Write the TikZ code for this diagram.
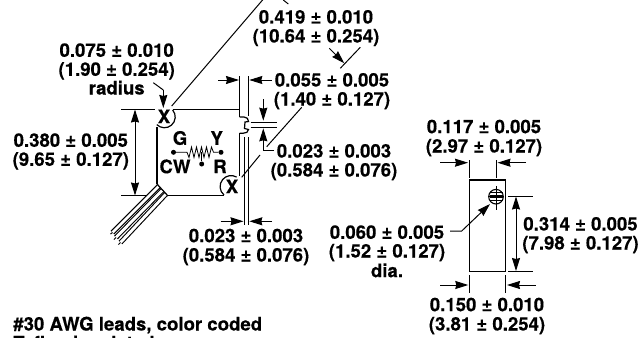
\documentclass[tikz,border=0pt]{standalone}
\usepackage{fontspec}
\setmainfont[BoldFeatures={FakeBold=0.35}]{TeX Gyre Heros}
\usetikzlibrary{arrows.meta}
\tikzset{
  lbl/.style={inner sep=0pt,outer sep=0pt,anchor=base,font=\fontsize{18.6}{19}\selectfont\bfseries},
  lbll/.style={lbl,anchor=base west},
  ln/.style={line width=1.2pt,black},
  thin ln/.style={line width=1pt,black},
  arr/.style={thin ln,-{Stealth[inset=1pt,length=13pt,width=8pt]}},
  darr/.style={thin ln,{Stealth[inset=1pt,length=13pt,width=8pt]}-{Stealth[inset=1pt,length=13pt,width=8pt]}},
  pin/.style={circle,fill=black,inner sep=0pt,minimum size=5pt},
  wire/.style={line width=5pt,black,line cap=butt},
  wirein/.style={line width=2.8pt,white,line cap=butt},
}
\begin{document}
\begin{tikzpicture}[x=1pt,y=-1pt]
\useasboundingbox (0,0) rectangle (639,337);
\clip (0,0) rectangle (639,337);
% ---- left body
\draw[ln] (121,109.3) -- (155,109.3);
\draw[ln] (172.5,109.3) -- (239.5,109.3) -- (239.5,117);
\draw[ln] (239.5,133) -- (239.5,176);
\draw[ln] (157,127) -- (157,184);
\draw[ln] (121,195.7) -- (150,195.7);
\draw[ln] (168,195.7) -- (224,195.7);
\draw[ln] (172.7,110) arc[start angle=-40,end angle=135,radius=10.8] ;
\draw[ln] (224,195) arc[start angle=130,end angle=300,radius=11];
\draw[thin ln] (239.3,76) -- (239.3,117);
\draw[thin ln] (248.7,76) -- (248.7,116);
\draw[ln] (239.5,117) -- (244,117) .. controls (247,117) and (248.5,119) .. (248.5,121.5)
  -- (245,122) -- (244.5,128.5) -- (248.5,129.5) .. controls (248.5,132) and (246,133.3) .. (243,133.3) -- (239.5,133.3);
\draw[thin ln] (244.3,137) -- (244.3,225);
\draw[thin ln] (248.5,137) -- (248.5,225);
% ---- leads
\foreach \a/\b/\c/\d in {159/186/112.5/232.5,162.5/190/116/237.5,166/194/120.5/242.5}{
  \draw[wire] (\a,\b) -- (\c,\d);
  \draw[wirein] (\a,\b) -- (\c,\d);
}
\draw[thin ln] (112.5,232.5) -- (110.5,234);
\draw[thin ln] (116,237.5) -- (114,239.5);
\draw[thin ln] (120.5,242.5) -- (118.5,244.5);
\draw[ln] (157,184) -- (168,196);
% ---- resistor symbol
\node[pin] (pa) at (173.5,152.3) {};
\node[pin] (pb) at (221,152.3) {};
\node[pin] (pc) at (201.7,164) {};
\draw[line width=.8pt] (pa) -- (187,152.3) -- (189,157.5) -- (191.5,147) -- (194,157.5) -- (196.5,147) -- (199,157.5) -- (201.5,147) -- (204,157.5) -- (206.5,147) -- (209,157.5) -- (211.5,147) -- (213.5,152.3) -- (pb);
\draw[line width=.8pt] (pc) -- (201.7,152);
\node[lbl] (tg) at (180,144.8) {G};
\node[lbl] (ty) at (216.7,144.8) {Y};
\node[lbl] (tcw) at (175,173.2) {CW};
\node[lbl] (tr) at (220,173.2) {R};
\node[lbl] (tx1) at (164,123.2) {X};
\node[lbl] (tx2) at (232,193.2) {X};
% ---- left dims
\draw[darr] (135,109.5) -- (135,195.5);
\draw[thin ln] (153.3,82.7) -- (163.3,90);
\draw[arr] (163.3,90) -- (163.3,108);
\draw[thin ln] (171.7,106) -- (266,-4);
\draw[thin ln] (283.3,0) -- (288.3,4);
\draw[arr] (329.3,48.3) -- (344.3,63.3);
\draw[thin ln] (360.3,47.3) -- (340.3,68.3);
\draw[arr] (218.3,80) -- (239,80);
\draw[arr] (271.5,80) -- (249.3,80);
\draw[arr] (263.3,99.3) -- (263.3,120.7);
\draw[thin ln] (250.7,122) -- (276.7,122);
\draw[thin ln] (250.7,127) -- (276.7,127);
\draw[arr] (274,150.7) -- (263.3,150.7) -- (263.3,128.3);
\draw[thin ln] (301.7,107.3) -- (266.7,146.7);
\draw[thin ln] (260,155) -- (241.7,177.3);
\draw[arr] (220.5,221.3) -- (243.5,221.3);
\draw[arr] (272,221.3) -- (249.3,221.3);
% ---- right part
\draw[ln] (469.3,180) rectangle (505.7,271.3);
\node[circle,draw,line width=1.1pt,minimum size=14.6pt,inner sep=0pt] (hole) at (496,196.7) {};
\foreach \y in {192.5,195,197.5,200}{\draw[line width=.8pt] (489.5,\y+.3) -- (502.5,\y+.3);}
\draw[thin ln] (496.3,186) -- (496.3,210);
\draw[thin ln] (488,196.7) -- (504,196.7);
\draw[thin ln] (469.5,160) -- (469.5,177.5);
\draw[thin ln] (496.3,160) -- (496.3,177.5);
\draw[arr] (440,162.7) -- (468,162.7);
\draw[arr] (526,162.7) -- (497.5,162.7);
\draw[thin ln] (508.3,196.3) -- (533.3,196.3);
\draw[thin ln] (508.3,271.3) -- (533.3,271.3);
\draw[darr] (516,196.5) -- (516,271);
\draw[thin ln] (469.7,275) -- (469.7,292.7);
\draw[thin ln] (505.7,275) -- (505.7,292.7);
\draw[arr] (440,285) -- (468.3,285);
\draw[arr] (535.7,285) -- (507,285);
\draw[arr] (450,231) -- (461.7,231) -- (490,204);
% ---- texts
\node[lbl] (a1) at (116.7,56.8) {0.075 ± 0.010};
\node[lbl] (a2) at (116.7,75.8) {(1.90 ± 0.254)};
\node[lbl] (a3) at (116.7,94.5) {radius};
\node[lbl] (b1) at (70.8,146.8) {0.380 ± 0.005};
\node[lbl] (b2) at (70.8,165.8) {(9.65 ± 0.127)};
\node[lbl] (c1) at (316,23.5) {0.419 ± 0.010};
\node[lbl] (c2) at (316,42.5) {(10.64 ± 0.254)};
\node[lbl] (d1) at (332,86.5) {0.055 ± 0.005};
\node[lbl] (d2) at (332,105.5) {(1.40 ± 0.127)};
\node[lbl] (e1) at (334,157.5) {0.023 ± 0.003};
\node[lbl] (e2) at (334,176.5) {(0.584 ± 0.076)};
\node[lbl] (f1) at (246,242.2) {0.023 ± 0.003};
\node[lbl] (f2) at (246,261.5) {(0.584 ± 0.076)};
\node[lbl] (g1) at (484,133.2) {0.117 ± 0.005};
\node[lbl] (g2) at (484,152.5) {(2.97 ± 0.127)};
\node[lbl] (h1) at (387,238.8) {0.060 ± 0.005};
\node[lbl] (h2) at (387,257.5) {(1.52 ± 0.127)};
\node[lbl] (h3) at (387,277.2) {dia.};
\node[lbl] (i1) at (580.5,230.5) {0.314 ± 0.005};
\node[lbl] (i2) at (580.5,249.5) {(7.98 ± 0.127)};
\node[lbl] (j1) at (487,311.2) {0.150 ± 0.010};
\node[lbl] (j2) at (487,330.5) {(3.81 ± 0.254)};
\node[lbll] (k1) at (13.3,330.5) {\#30 AWG leads, color coded};
\node[lbll] (k2) at (13.3,349.5) {Teflon insulated};
\end{tikzpicture}
\end{document}
